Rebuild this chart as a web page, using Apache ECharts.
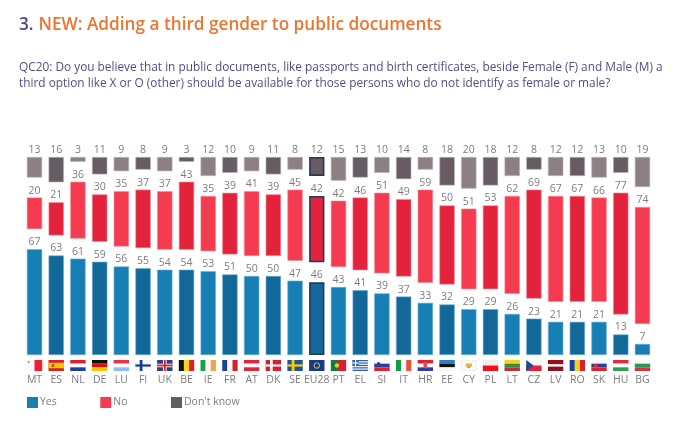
<!DOCTYPE html>
<html><head><meta charset="utf-8">
<style>html,body{margin:0;padding:0;background:#fff}#c{width:688px;height:440px}</style>
<script src="https://cdn.jsdelivr.net/npm/echarts@6/dist/echarts.min.js"></script>
</head><body><div id="c"></div>
<script>
const categories = ['MT','ES','NL','DE','LU','FI','UK','BE','IE','FR','AT','DK','SE','EU28','PT','EL','SI','IT','HR','EE','CY','PL','LT','CZ','LV','RO','SK','HU','BG'];
const yesValues = [67,63,61,59,56,55,54,54,53,51,50,50,47,46,43,41,39,37,33,32,29,29,26,23,21,21,21,13,7];
const noValues = [20,21,36,30,35,37,37,43,35,39,41,39,45,42,42,46,51,49,59,50,51,53,62,69,67,67,66,77,74];
const dkValues = [13,16,3,11,9,8,9,3,12,10,9,11,8,12,15,13,10,14,8,18,20,18,12,8,12,12,13,10,19];

const FONT = '"Open Sans","Noto Sans",sans-serif';
const GAP = 12.65; // blank space between the stacked blocks, in axis units
const HIGHLIGHT = 'EU28';
const COL = {
  yes:['#177fb4','#13689a'], no:['#f53b50','#e2233b'], dk:['#8d8084','#675c63']
};
// Flags in unit coordinates: [x,y,w,h,colour]; circles are [cx,cy,r,colour,'c']
const W='#f9f7f7',K='#111111';
const h3=(a,b,c)=>[[0,0,1,1/3,a],[0,1/3,1,1/3,b],[0,2/3,1,1/3,c]];
const v3=(a,b,c)=>[[0,0,1/3,1,a],[1/3,0,1/3,1,b],[2/3,0,1/3,1,c]];
const nordic=(bg,c)=>[[0,0,1,1,bg],[0.28,0,0.18,1,c],[0,0.4,1,0.2,c]];
const FLAGS = {
  MT:[[0,0,.5,1,W],[.5,0,.5,1,'#f02030'],[.06,.08,.12,.2,'#b0a0a0']],
  ES:[[0,0,1,1,'#d9202a'],[0,.25,1,.5,'#f7c600'],[.2,.35,.18,.3,'#b5651d']],
  NL:h3('#d5222f',W,'#1e3f9e'), DE:h3(K,'#dd1010','#f8c400'),
  LU:h3('#ee3340',W,'#8cbcf5'),
  FI:nordic(W,'#123f94'),
  UK:[[0,0,1,1,'#2a3f8c'],[0,.34,1,.32,W],[.38,0,.24,1,W],[0,.42,1,.16,'#d8202f'],[.44,0,.12,1,'#d8202f']],
  BE:v3(K,'#f8d320','#e51d2a'), IE:v3('#18a050',W,'#f5a04a'),
  FR:v3('#1f3f96',W,'#d8202f'), AT:h3('#e0263a',W,'#e0263a'),
  DK:nordic('#d81e34',W), SE:nordic('#1c559f','#f8d000'),
  EU28:[[0,0,1,1,'#143a8e'],[.5,.5,.28,'#e8c830','c'],[.5,.5,.2,'#143a8e','c']],
  PT:[[0,0,.4,1,'#0e7d3c'],[.4,0,.6,1,'#d8202f'],[.4,.5,.2,'#e8c830','c']],
  EL:[[0,0,1,1,W],[0,0,1,.11,'#2d5fae'],[0,.22,1,.11,'#2d5fae'],[0,.44,1,.11,'#2d5fae'],[0,.66,1,.11,'#2d5fae'],[0,.88,1,.12,'#2d5fae'],[0,0,.4,.55,'#2d5fae'],[.16,0,.08,.55,W],[0,.22,.4,.11,W]],
  SI:[...h3(W,'#2a3f9c','#e0202c'),[.28,.35,.16,'#2a3f9c','c']],
  IT:v3('#159a4a',W,'#e9503c'),
  HR:[...h3('#e0202c',W,'#2a3f9c'),[.38,.2,.24,.55,'#d8505a']],
  EE:[[0,0,1,1/3,'#2a7fc8'],[0,1/3,1,1/3,K],[0,2/3,1,1/3,W]],
  CY:[[0,0,1,1,'#e8e6de'],[.03,.05,.94,.9,'#fbfbf6'],[.3,.32,.4,.3,'#e8b040'],[.42,.62,.16,.12,'#7aa860']],
  PL:[[0,0,1,.5,'#f0eded'],[0,.5,1,.5,'#f0101e']],
  LT:h3('#f2d410','#3a8a46','#c0303a'),
  CZ:[[0,0,1,.5,W],[0,.5,1,.5,'#e0203c'],'tri'],
  LV:[[0,0,1,.4,'#8e1220'],[0,.4,1,.2,W],[0,.6,1,.4,'#8e1220']],
  RO:v3('#1c3f9e','#f7d010','#d8202f'),
  SK:[...h3(W,'#2a3f9c','#e0202c'),[.28,.5,.17,'#d8303c','c']],
  HU:h3('#d8303c',W,'#2aa050'), BG:h3(W,'#1f9a54','#d8303c')
};
function flagItem(params, api){
  const i = api.value(0);
  const p = api.coord([i, 0]);
  const fw = 15.4, fh = 11, x0 = p[0]-fw/2, y0 = p[1]+5;
  const kids = [];
  (FLAGS[categories[i]]||[]).forEach(s=>{
    if(s==='tri'){
      kids.push({type:'polygon',shape:{points:[[x0,y0],[x0+fw*.48,y0+fh/2],[x0,y0+fh]]},style:{fill:'#1c4a96'}});
    } else if(s[4]==='c'){
      kids.push({type:'circle',shape:{cx:x0+s[0]*fw,cy:y0+s[1]*fh,r:s[2]*fh},style:{fill:s[3]}});
    } else {
      kids.push({type:'rect',shape:{x:x0+s[0]*fw,y:y0+s[1]*fh,width:s[2]*fw,height:s[3]*fh},style:{fill:s[4]}});
    }
  });
  return {type:'group',children:kids,silent:true};
}
const border = {yes:'#6db0d2',no:'#f98b98',dk:'#b8aeb1'};
const mk = (vals,key)=>vals.map((v,i)=>({
  value:v,
  itemStyle: categories[i]===HIGHLIGHT
    ? {color:COL[key][1],borderColor:'#27375f',borderWidth:1.6}
    : {color:COL[key][i%2],borderColor:border[key],borderWidth:.6}
}));
const barLabel = {show:true,position:'top',distance:1.5,color:'#7d7d7d',fontSize:10.5,fontFamily:FONT};
const base = {type:'bar',stack:'t',barWidth:15.3,animation:false,silent:true};
const spacer = n=>({...base,name:n,data:categories.map(()=>GAP),itemStyle:{color:'transparent'},label:{show:false}});
const chart = echarts.init(document.getElementById('c'),null,{renderer:'canvas'});
chart.setOption({
  animation:false,
  backgroundColor:'#ffffff',
  title:[
    {left:19,top:16,padding:0,text:'{n|3}{d|.} {o|NEW: Adding a third gender to public documents}',
     textStyle:{rich:{
       n:{fontFamily:FONT,fontSize:17.2,fontWeight:600,color:'#4b4a8c'},
       d:{fontFamily:FONT,fontSize:17.2,fontWeight:600,color:'#4b4a8c'},
       o:{fontFamily:FONT,fontSize:17.2,fontWeight:600,color:'#ee7430'}}}},
    {left:19,top:60,padding:0,text:'QC20: Do you believe that in public documents, like passports and birth certificates, beside Female (F) and Male (M) a\nthird option like X or O (other) should be available for those persons who do not identify as female or male?',
     textStyle:{fontFamily:FONT,fontSize:11.85,fontWeight:400,color:'#5a4a86',lineHeight:15.5}}
  ],
  legend:{left:27,top:397,padding:0,itemWidth:11,itemHeight:11,itemGap:43.5,selectedMode:false,
    icon:'rect',data:['Yes','No',"Don't know"],
    textStyle:{fontFamily:FONT,fontSize:10.5,color:'#7d7d7d',padding:[0,0,0,-3]}},
  grid:{left:23.65,top:157,width:629.7,height:198},
  xAxis:{type:'category',data:categories,axisLine:{show:false},axisTick:{show:false},
    axisLabel:{interval:0,margin:20,color:'#7d7d7d',fontSize:10.5,fontFamily:FONT}},
  yAxis:{type:'value',min:0,max:100+2*GAP,show:false,splitLine:{show:false}},
  series:[
    {...base,name:'Yes',color:COL.yes[0],data:mk(yesValues,'yes'),label:barLabel},
    spacer('g1'),
    {...base,name:'No',color:COL.no[0],data:mk(noValues,'no'),label:barLabel},
    spacer('g2'),
    {...base,name:"Don't know",color:COL.dk[1],data:mk(dkValues,'dk'),label:barLabel},
    {type:'custom',name:'flags',data:categories.map((c,i)=>[i,0]),renderItem:flagItem,silent:true,clip:false,
     encode:{x:0,y:1},z:5}
  ]
});
</script></body></html>
